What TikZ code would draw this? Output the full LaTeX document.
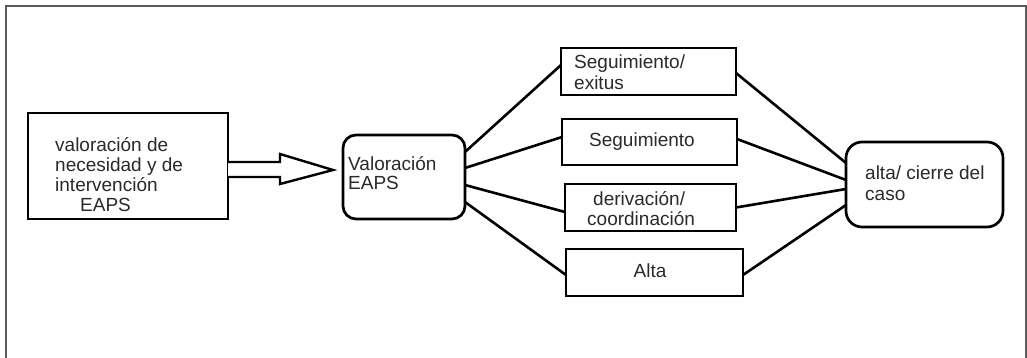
\documentclass[tikz,border=0pt]{standalone}
\usepackage{fontspec}
\setmainfont{Liberation Sans}
\usetikzlibrary{calc}
\definecolor{framegray}{HTML}{5C5C5C}
\definecolor{txtgray}{HTML}{2A2A2A}
\newcommand{\fl}{\rule{0pt}{16pt}}
\begin{document}
\begin{tikzpicture}[x=1pt,y=-1pt,
  box/.style={draw=black, line width=2.7pt, outer sep=0pt, inner sep=0pt, fill=white},
  rbox/.style={box, rounded corners=13pt},
  txt/.style={inner sep=0pt, anchor=north west, align=left, text=txtgray,
              font=\fontsize{19}{20}\selectfont},
  ctxt/.style={inner sep=0pt, anchor=base, text=txtgray, font=\fontsize{19}{20}\selectfont},
  link/.style={draw=black, line width=2.6pt, line cap=round},
  frame/.style={draw=framegray, line width=1.8pt}]
\useasboundingbox (0,0) rectangle (1027,358);
% outer frame
\coordinate (fbl) at (6,358);
\coordinate (ftl) at (6,6);
\coordinate (ftr) at (1026,6);
\coordinate (fbr) at (1026,358);
\draw[frame] (fbl) -- (ftl) -- (ftr) -- (fbr);
% boxes
\node[box, minimum width=200pt, minimum height=106pt] (b1) at (128,166) {};
\node[rbox, minimum width=122pt, minimum height=84pt] (b2) at (404,177) {};
\node[box, minimum width=175pt, minimum height=47pt] (bA) at (648.5,71.5) {};
\node[box, minimum width=175pt, minimum height=46pt] (bB) at (649.5,142) {};
\node[box, minimum width=171pt, minimum height=47pt] (bC) at (650.5,207.5) {};
\node[box, minimum width=177pt, minimum height=47pt] (bD) at (654.5,272.5) {};
\node[rbox, rounded corners=16pt, minimum width=157pt, minimum height=85pt] (bR) at (924.5,184.5) {};
% texts
\node[txt] (t1) at (55,135) {\fl valoración de\\necesidad y de\\intervención\\\hspace*{25pt}EAPS};
\node[txt, font=\fontsize{19}{19}\selectfont] (t2) at (348,154) {\fl Valoración\\EAPS};
\node[txt, font=\fontsize{19}{21}\selectfont] (tA) at (574,52) {\fl Seguimiento/\\exitus};
\node[ctxt] (tB) at (642,146.5) {Seguimiento};
\node[txt] (tC) at (587,189) {\fl\hspace*{6pt}derivación/\\coordinación};
\node[ctxt] (tD) at (650,277) {Alta};
\node[txt, font=\fontsize{19}{21}\selectfont] (tR) at (865,163) {\fl alta/ cierre del\\caso};
% hollow arrow
\draw[line width=2.4pt, line join=miter, fill=white]
  ($(b1.east)+(0,-4)$) -- ++(52,0) -- ++(0,-8) -- ++(53,16) -- ++(-53,14) -- ++(0,-7) -- ++(-52,0);
% links from b2
\draw[link] ([yshift=25pt]b2.east) -- ([yshift=6.5pt]bA.west);
\draw[link] ([yshift=9pt]b2.east) -- ([yshift=5pt]bB.west);
\draw[link] ([yshift=-8pt]b2.east) -- ([yshift=-4.5pt]bC.west);
\draw[link] ([yshift=-25pt]b2.east) -- ([yshift=-2.5pt]bD.west);
% links to bR
\draw[link] ([yshift=-1.5pt]bA.east) -- ([yshift=21.5pt]bR.west);
\draw[link] ([yshift=3pt]bB.east) -- ([yshift=4.5pt]bR.west);
\draw[link] ([yshift=0pt]bC.east) -- ([yshift=-4.5pt]bR.west);
\draw[link] ([yshift=-2.5pt]bD.east) -- ([yshift=-20.5pt]bR.west);
\end{tikzpicture}
\end{document}
